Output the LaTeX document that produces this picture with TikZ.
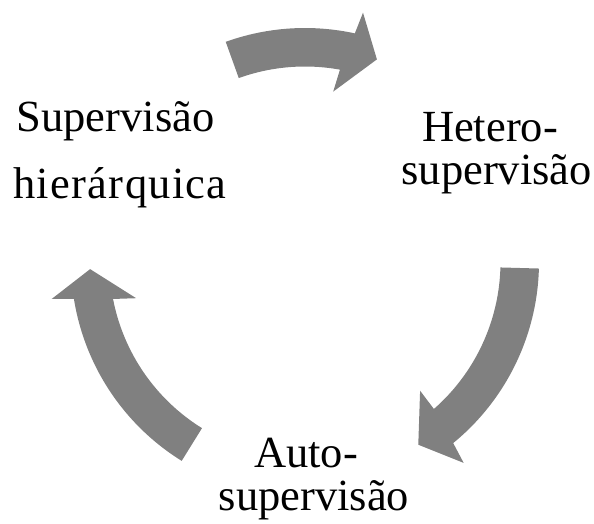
\documentclass[tikz,border=0pt]{standalone}
\usepackage{fontspec}
\setmainfont{Liberation Serif}
\definecolor{arrowgray}{HTML}{808080}
\tikzset{
  lbl/.style={anchor=base, inner sep=0pt, font=\fontsize{44.5}{44.5}\selectfont},
  cyc/.style={fill=arrowgray, draw=none}
}
% #1 tail angle, #2 base outer, #3 base inner, #4 barb outer, #5 barb inner, #6 tip
\newcommand{\cyclearrow}[6]{%
  \fill[cyc] (#1:234) arc[start angle=#1, end angle=#2, radius=234]
    -- (#4:256) -- (#6:215) -- (#5:172.7) -- (#3:195.5)
    arc[start angle=#3, end angle=#1, radius=195.5] -- cycle;}
\begin{document}
\begin{tikzpicture}[x=1pt,y=1pt]
\useasboundingbox (0,0) rectangle (594,523);
\begin{scope}[shift={(305,261)}]
  \cyclearrow{109.8}{77.7}{79.7}{76.9}{80.6}{70.46}
  \cyclearrow{-1.6}{-50.7}{-48.75}{-51.7}{-48.2}{-58.2}
  \cyclearrow{238.2}{189.07}{190.9}{188.3}{192.1}{181.9}
\end{scope}
\node[lbl] (sup1) at (115.5,391.3) {Supervisão};
\node[lbl] (sup2) at (120,324.7) {\addfontfeature{LetterSpace=2.9}hierárquica};
\node[lbl] (het1) at (490,381.3) {Hetero-};
\node[lbl] (het2) at (496.7,338) {supervisão};
\node[lbl] (aut1) at (306,55.7) {Auto-};
\node[lbl] (aut2) at (314,13) {supervisão};
\end{tikzpicture}
\end{document}
